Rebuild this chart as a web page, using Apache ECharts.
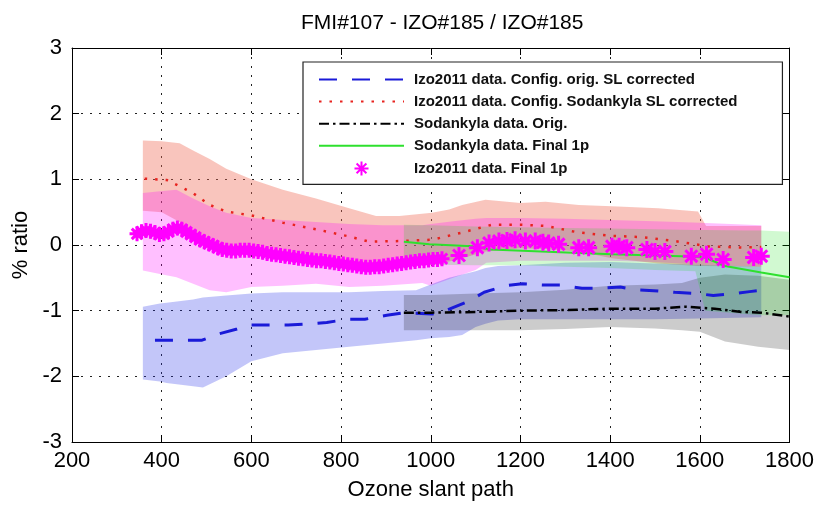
<!DOCTYPE html>
<html><head><meta charset="utf-8">
<script src="https://cdn.jsdelivr.net/npm/echarts@6/dist/echarts.min.js"></script>
<style>html,body{margin:0;padding:0;background:#fff}#c{width:817px;height:506px}</style>
</head><body><div id="c"></div>
<script>
// ---- axis ticks ----
const xMin = 200, xMax = 1800, xStep = 200;
const yMin = -3, yMax = 3, yStep = 1;

// ---- bands (upper / lower envelopes) ----
const salmonX  = [358, 400, 440, 470, 507, 544, 600, 670, 744, 818, 878, 930, 1003, 1041, 1070, 1122, 1200, 1256, 1330, 1404, 1507, 1596, 1614, 1737];
const salmonHi = [1.59, 1.58, 1.55, 1.44, 1.31, 1.16, 1.0, 0.84, 0.71, 0.56, 0.44, 0.44, 0.49, 0.54, 0.61, 0.69, 0.64, 0.66, 0.61, 0.59, 0.56, 0.51, 0.29, 0.29];
const salmonLo = [0.52, 0.5, 0.35, 0.15, 0.0, -0.08, -0.12, -0.15, -0.2, -0.28, -0.33, -0.32, -0.3, -0.25, -0.2, -0.1, -0.05, -0.06, -0.1, -0.2, -0.28, -0.32, -0.32, -0.33];

const pinkX  = [358, 396, 433, 470, 507, 544, 600, 670, 744, 818, 893, 981, 1000, 1050, 1100, 1124, 1200, 1300, 1400, 1500, 1600, 1737];
const pinkHi = [0.79, 0.82, 0.84, 0.71, 0.59, 0.49, 0.41, 0.38, 0.35, 0.32, 0.3, 0.3, 0.32, 0.36, 0.4, 0.41, 0.41, 0.4, 0.38, 0.36, 0.34, 0.3];
const pinkLo = [-0.39, -0.44, -0.49, -0.59, -0.69, -0.72, -0.64, -0.62, -0.59, -0.64, -0.62, -0.58, -0.62, -0.5, -0.38, -0.27, -0.24, -0.24, -0.24, -0.26, -0.3, -0.33];

const blueX  = [358, 396, 411, 470, 492, 544, 600, 670, 744, 818, 893, 967, 1000, 1041, 1070, 1100, 1122, 1150, 1200, 1300, 1400, 1500, 1600, 1737];
const blueHi = [-0.94, -0.89, -0.88, -0.83, -0.8, -0.77, -0.74, -0.72, -0.72, -0.72, -0.7, -0.69, -0.6, -0.5, -0.45, -0.4, -0.35, -0.32, -0.31, -0.27, -0.26, -0.28, -0.3, -0.33];
const blueLo = [-2.05, -2.08, -2.1, -2.15, -2.17, -2.0, -1.77, -1.65, -1.6, -1.55, -1.5, -1.45, -1.42, -1.4, -1.37, -1.25, -1.2, -1.15, -1.13, -1.13, -1.13, -1.13, -1.12, -1.1];

const grayX  = [940, 1000, 1100, 1200, 1300, 1400, 1500, 1560, 1600, 1656, 1730, 1800];
const grayHi = [-0.76, -0.76, -0.74, -0.72, -0.68, -0.62, -0.6, -0.58, -0.5, -0.45, -0.47, -0.53];
const grayLo = [-1.3, -1.3, -1.3, -1.3, -1.28, -1.25, -1.27, -1.3, -1.32, -1.47, -1.55, -1.6];

const greenX  = [940, 1000, 1100, 1200, 1300, 1400, 1500, 1590, 1612, 1700, 1737, 1800];
const greenHi = [0.31, 0.3, 0.28, 0.27, 0.26, 0.25, 0.24, 0.23, 0.23, 0.22, 0.22, 0.2];
const greenLo = [-0.3, -0.3, -0.31, -0.31, -0.33, -0.35, -0.38, -0.4, -1.0, -1.05, -1.07, -1.07];

// ---- lines ----
const blueLineX = [385, 420, 449, 490, 524, 568, 597, 646, 682, 731, 768, 815, 853, 902, 941, 1003, 1026, 1086, 1119, 1167, 1204, 1252, 1290, 1337, 1375, 1423, 1455, 1507, 1544, 1596, 1630, 1678, 1711, 1737];
const blueLineY = [-1.45, -1.45, -1.45, -1.45, -1.36, -1.28, -1.22, -1.22, -1.22, -1.2, -1.18, -1.13, -1.13, -1.07, -1.03, -1.05, -1.02, -0.85, -0.72, -0.62, -0.59, -0.61, -0.61, -0.66, -0.66, -0.64, -0.68, -0.7, -0.72, -0.74, -0.77, -0.74, -0.71, -0.69];

const redLineX = [362, 411, 441, 470, 507, 544, 600, 670, 744, 818, 863, 930, 1003, 1070, 1137, 1200, 1256, 1330, 1404, 1470, 1544, 1618, 1693, 1737];
const redLineY = [1.01, 0.99, 0.89, 0.79, 0.61, 0.51, 0.45, 0.34, 0.24, 0.13, 0.05, 0.06, 0.08, 0.19, 0.31, 0.31, 0.29, 0.19, 0.14, 0.12, 0.06, -0.02, -0.04, -0.03];

const blackLineX = [940, 1000, 1100, 1200, 1300, 1400, 1500, 1567, 1633, 1693, 1737, 1800];
const blackLineY = [-1.03, -1.03, -1.02, -1.0, -0.99, -0.97, -0.97, -0.94, -0.97, -1.02, -1.03, -1.09];

const greenLineX = [940, 997, 1092, 1133, 1218, 1330, 1404, 1559, 1611, 1656, 1737, 1800];
const greenLineY = [0.05, 0.01, -0.02, -0.07, -0.09, -0.12, -0.14, -0.17, -0.19, -0.32, -0.42, -0.49];

// ---- Izo2011 Final 1p markers (dense part, then sparse part) ----
const starDenseX = [345, 355, 365, 375, 385, 395, 405, 415, 425, 435, 445, 455, 465, 475, 485, 495, 505, 515, 525, 535, 545, 555, 565, 575, 585, 595, 605, 615, 625, 635, 645, 655, 665, 675, 685, 695, 705, 715, 725, 735, 745, 755, 765, 775, 785, 795, 805, 815, 825, 835, 845, 855, 865, 875, 885, 895, 905, 915, 925, 935, 945, 955, 965, 975, 985, 995, 1005, 1015, 1025];
const starDenseY = [0.17, 0.2, 0.22, 0.21, 0.19, 0.16, 0.17, 0.2, 0.24, 0.26, 0.24, 0.2, 0.16, 0.12, 0.08, 0.05, 0.02, -0.01, -0.04, -0.07, -0.08, -0.09, -0.09, -0.08, -0.08, -0.08, -0.09, -0.1, -0.11, -0.13, -0.14, -0.15, -0.16, -0.17, -0.18, -0.19, -0.2, -0.21, -0.22, -0.23, -0.24, -0.24, -0.25, -0.26, -0.27, -0.28, -0.29, -0.3, -0.31, -0.32, -0.33, -0.34, -0.34, -0.33, -0.33, -0.32, -0.31, -0.3, -0.29, -0.28, -0.27, -0.26, -0.25, -0.24, -0.24, -0.23, -0.22, -0.22, -0.21];
const starSparseX = [1063, 1104, 1130, 1152, 1170, 1188, 1211, 1233, 1250, 1263, 1285, 1330, 1352, 1404, 1420, 1437, 1482, 1500, 1522, 1581, 1615, 1652, 1720, 1737];
const starSparseY = [-0.16, -0.04, 0.03, 0.06, 0.07, 0.08, 0.06, 0.06, 0.04, 0.03, 0.01, -0.04, -0.04, -0.02, -0.02, -0.04, -0.07, -0.1, -0.1, -0.17, -0.14, -0.22, -0.19, -0.17];

const names = [
  'Izo2011 data. Config. orig. SL corrected',
  'Izo2011 data. Config. Sodankyla SL corrected',
  'Sodankyla data. Orig.',
  'Sodankyla data. Final 1p',
  'Izo2011 data. Final 1p'
];

const FONT = "'Liberation Sans', Arial, sans-serif";
const zip = (xs, ys) => xs.map((x, i) => [x, ys[i]]);
const STAR = 'path://M10,0L10,20M0,10L20,10M3,3L17,17M3,17L17,3';

function band(xs, hi, lo, color) {
  return {
    type: 'custom', silent: true, z: 1,
    data: xs.map((x, i) => [x, hi[i], lo[i]]),
    encode: { x: 0, y: [1, 2] },
    renderItem: function (params, api) {
      if (params.dataIndex !== 0) return null;
      const pts = [];
      for (let i = 0; i < xs.length; i++) pts.push(api.coord([xs[i], hi[i]]));
      for (let i = xs.length - 1; i >= 0; i--) pts.push(api.coord([xs[i], lo[i]]));
      return { type: 'polygon', shape: { points: pts }, style: { fill: color } };
    }
  };
}

const axisCommonX = {
  type: 'value', min: xMin, max: xMax, interval: xStep,
  axisLine: { show: true, onZero: false, lineStyle: { color: '#000', width: 1 } },
  axisTick: { show: true, inside: true, length: 7, lineStyle: { color: '#000' } }
};
const axisCommonY = {
  type: 'value', min: yMin, max: yMax, interval: yStep,
  axisLine: { show: true, onZero: false, lineStyle: { color: '#000', width: 1 } },
  axisTick: { show: true, inside: true, length: 7, lineStyle: { color: '#000' } }
};
const gridLine = { show: true, lineStyle: { color: '#222', type: [2, 7], width: 1 } };
const plain = v => String(v);

function lineSeries(name, xs, ys, color, width, type) {
  return {
    type: 'line', name: name, data: zip(xs, ys), symbol: 'none', z: 3,
    itemStyle: { color: color }, lineStyle: { color: color, width: width, type: type }
  };
}

const legendData = names.map((n, i) => i < 4 ? { name: n, itemStyle: { opacity: 0 } } : { name: n });

const chart = echarts.init(document.getElementById('c'), null, { renderer: 'canvas' });
chart.setOption({
  animation: false,
  backgroundColor: '#fff',
  title: {
    text: 'FMI#107 - IZO#185 / IZO#185', left: 296, top: 8,
    textStyle: { fontFamily: FONT, fontSize: 21, fontWeight: 'normal', color: '#000' }
  },
  grid: { left: 72, right: 25, top: 48, bottom: 59.5, containLabel: false },
  legend: {
    data: legendData, orient: 'vertical', left: 303, top: 62,
    padding: [10, 45, 8, 15], itemWidth: 85, itemHeight: 14, itemGap: 7.1,
    borderColor: '#222', borderWidth: 1.2, backgroundColor: '#fff', borderRadius: 0,
    selectedMode: false,
    textStyle: { fontFamily: FONT, fontSize: 15, lineHeight: 14, fontWeight: 'bold', color: '#111', padding: [0, 0, 0, 5] }
  },
  xAxis: [
    Object.assign({}, axisCommonX, {
      position: 'bottom', name: 'Ozone slant path', nameLocation: 'middle', nameGap: 37,
      nameTextStyle: { fontFamily: FONT, fontSize: 22, color: '#000' },
      axisLabel: { fontFamily: FONT, fontSize: 22, color: '#000', margin: 8, formatter: plain },
      splitLine: gridLine
    }),
    Object.assign({}, axisCommonX, { position: 'top', axisLabel: { show: false }, splitLine: { show: false } })
  ],
  yAxis: [
    Object.assign({}, axisCommonY, {
      position: 'left', name: '% ratio', nameLocation: 'middle', nameGap: 39,
      nameTextStyle: { fontFamily: FONT, fontSize: 22, color: '#000' },
      axisLabel: { fontFamily: FONT, fontSize: 22, color: '#000', margin: 10, formatter: plain },
      splitLine: gridLine
    }),
    Object.assign({}, axisCommonY, { position: 'right', axisLabel: { show: false }, splitLine: { show: false } })
  ],
  series: [
    band(salmonX, salmonHi, salmonLo, 'rgba(240,110,90,0.4)'),
    band(pinkX, pinkHi, pinkLo, 'rgba(255,0,255,0.25)'),
    band(blueX, blueHi, blueLo, 'rgba(40,50,235,0.28)'),
    band(grayX, grayHi, grayLo, 'rgba(0,0,0,0.2)'),
    band(greenX, greenHi, greenLo, 'rgba(0,220,0,0.18)'),
    lineSeries(names[0], blueLineX, blueLineY, '#1a1ad8', 3, [18, 15]),
    lineSeries(names[1], redLineX, redLineY, '#e8231f', 2.5, [2.5, 8]),
    lineSeries(names[2], blackLineX, blackLineY, '#000', 2.5, [10, 4, 2.5, 4]),
    lineSeries(names[3], greenLineX, greenLineY, '#2ee02e', 2, 'solid'),
    {
      type: 'scatter', name: names[4], data: zip(starDenseX, starDenseY), symbol: STAR, symbolSize: 15, z: 4,
      itemStyle: { color: '#ff00ff', borderColor: '#ff00ff', borderWidth: 3, opacity: 1 }
    },
    {
      type: 'scatter', name: names[4], data: zip(starSparseX, starSparseY), symbol: STAR, symbolSize: 17, z: 4,
      itemStyle: { color: '#ff00ff', borderColor: '#ff00ff', borderWidth: 3, opacity: 1 }
    }
  ]
});
</script>
</body></html>
